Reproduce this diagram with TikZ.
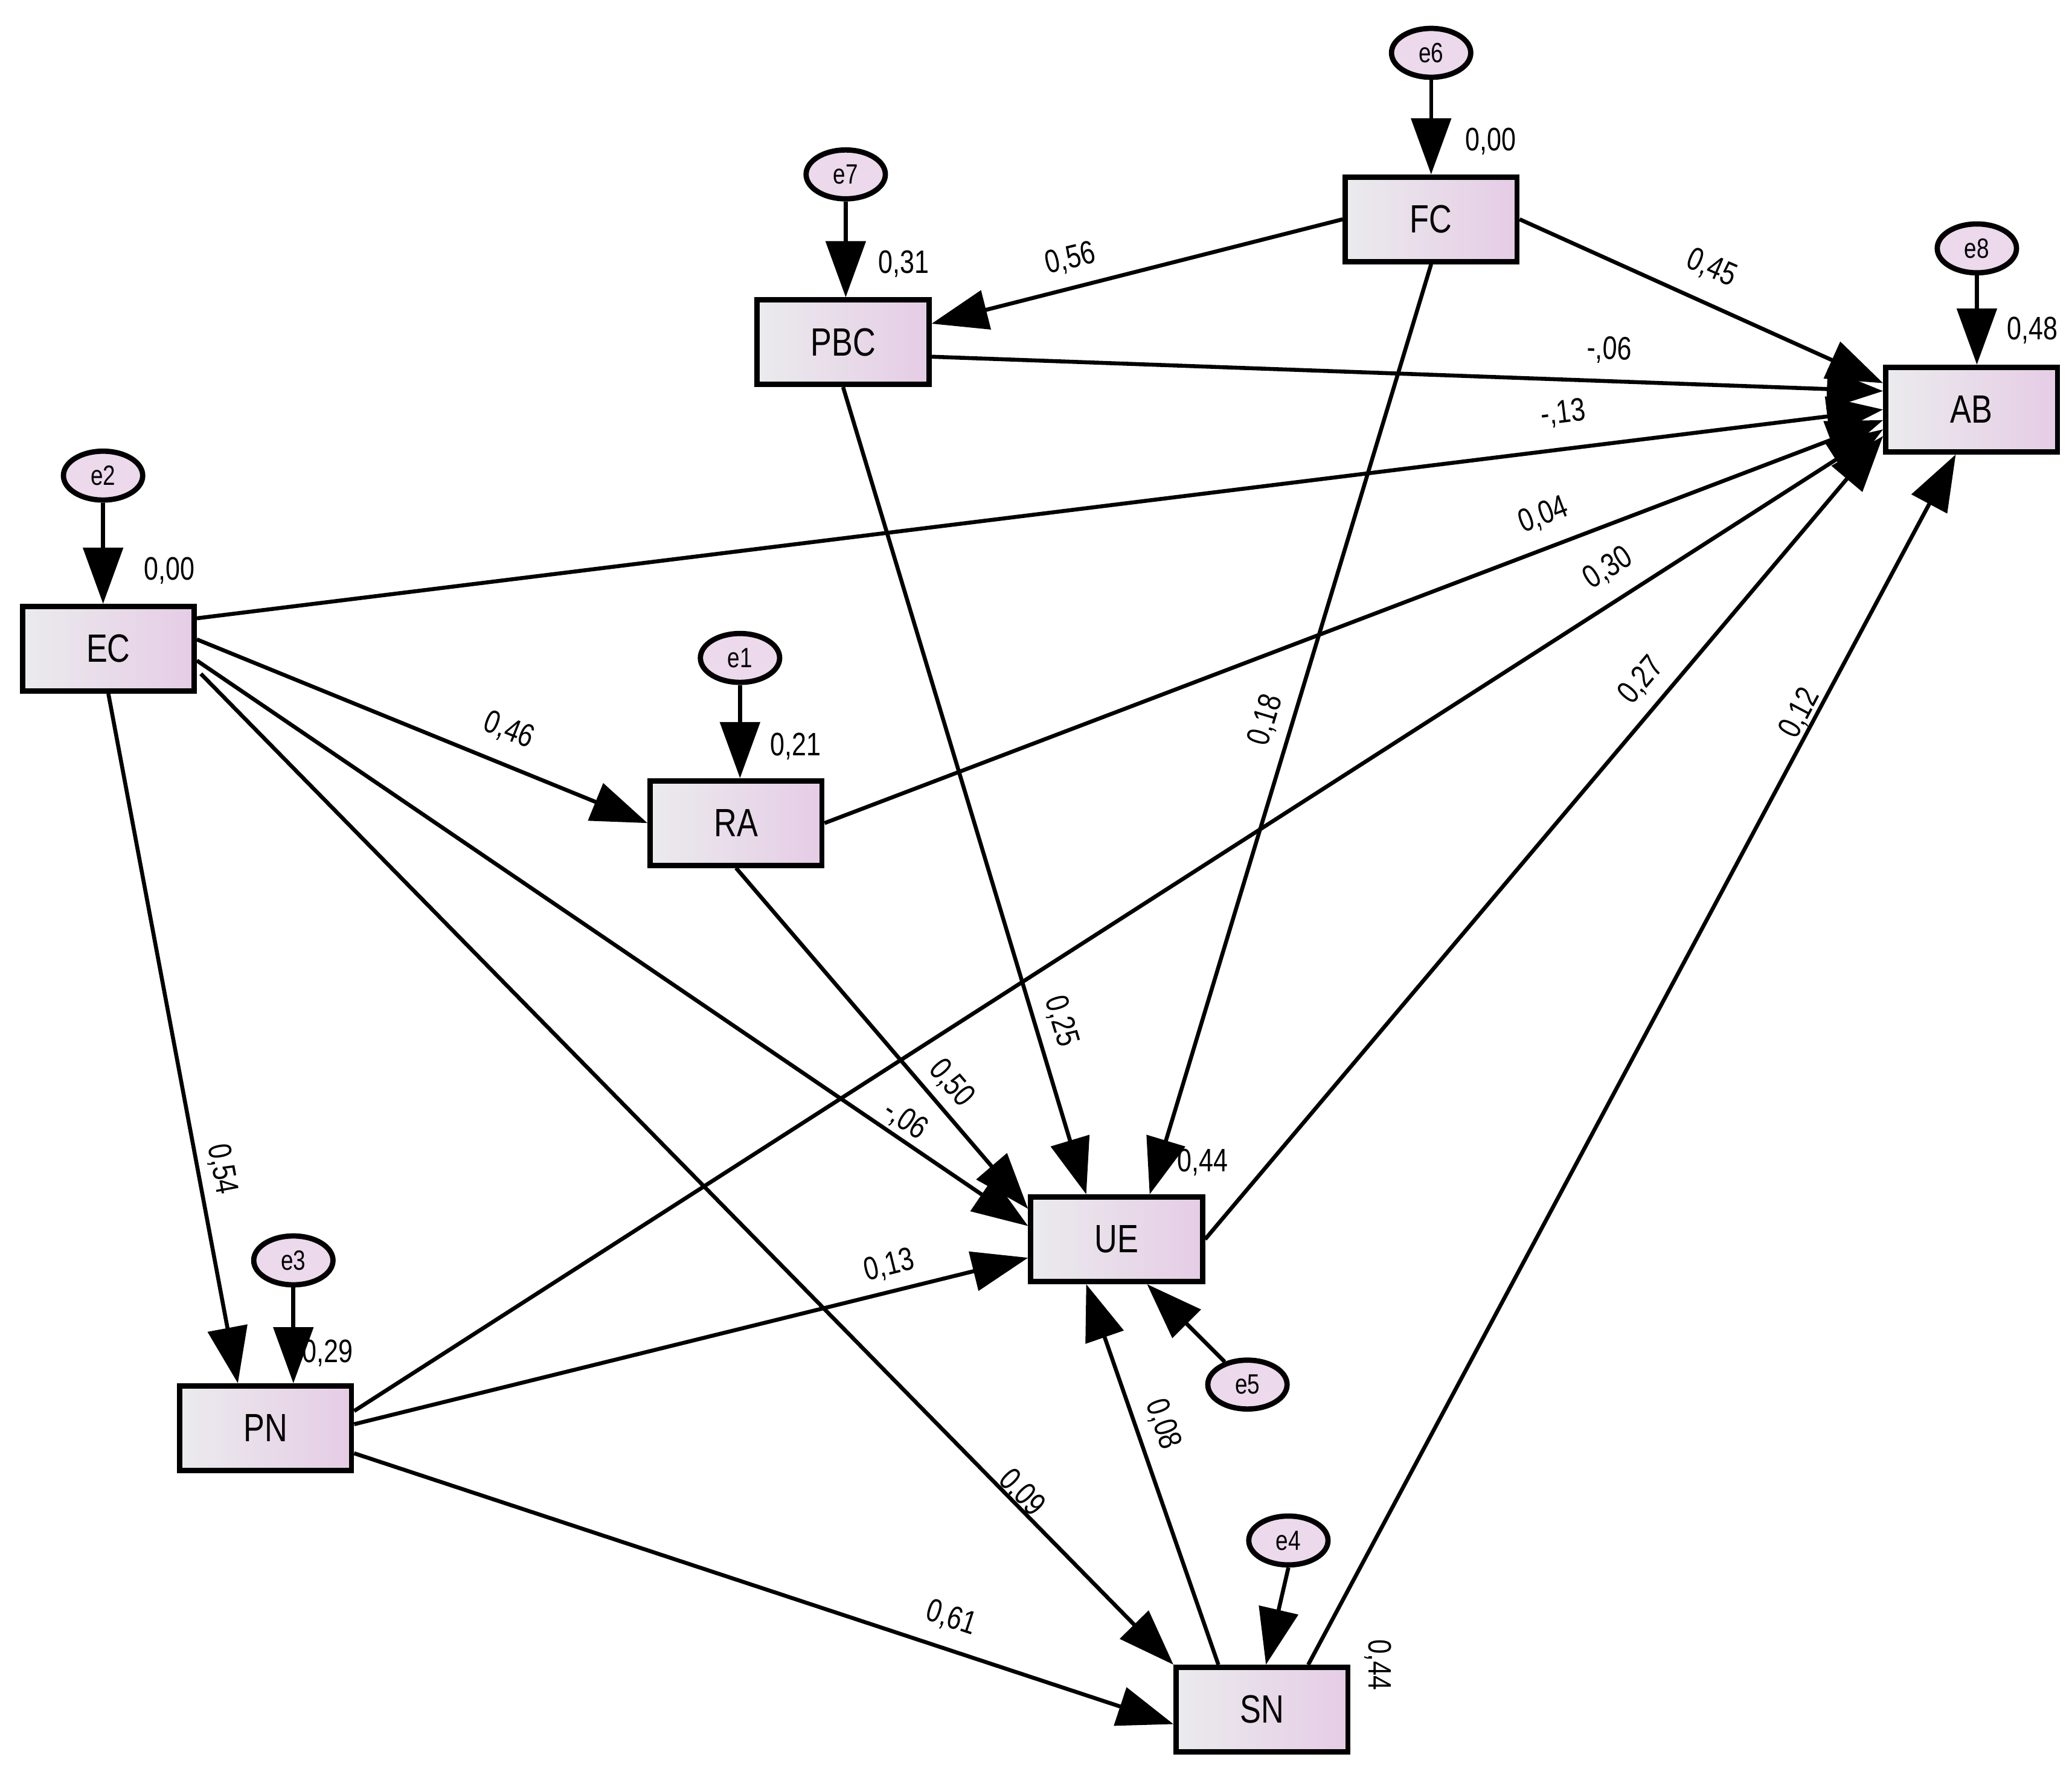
\documentclass[tikz,border=0pt]{standalone}
\usepackage{fontspec}
\setmainfont{Liberation Sans}[FakeStretch=0.8]
\usetikzlibrary{arrows.meta,calc,shapes.geometric}
\begin{document}
\begin{tikzpicture}[x=0.02cm,y=-0.02cm,
 box/.style={draw,line width=0.08cm,minimum width=2.6cm,minimum height=1.28cm,inner sep=0,left color=blue!6!gray!15,right color=violet!20,font=\fontsize{17}{17}\selectfont},
 err/.style={draw,ellipse,line width=0.08cm,minimum width=1.2cm,minimum height=0.74cm,inner sep=0,fill=violet!15,font=\fontsize{12}{12}\selectfont},
 arr/.style={line width=0.06cm,-{Triangle[length=0.85cm,width=0.6cm]}},
 lab/.style={font=\fontsize{14}{14}\selectfont,inner sep=1pt}]
\useasboundingbox (0,0) rectangle (1568,1354);
\node[box] (FC) at (1083,166) {FC};
\node[box] (PBC) at (638,259) {PBC};
\node[box] (AB) at (1492,310) {AB};
\node[box] (EC) at (82,491) {EC};
\node[box] (RA) at (557,623) {RA};
\node[box] (UE) at (845,938) {UE};
\node[box] (PN) at (201,1081) {PN};
\node[box] (SN) at (955,1294) {SN};
\node[err] (e6) at (1083,40) {e6};
\node[err] (e7) at (640,132) {e7};
\node[err] (e8) at (1496,188) {e8};
\node[err] (e2) at (78,360) {e2};
\node[err] (e1) at (560,498) {e1};
\node[err] (e3) at (222,954) {e3};
\node[err] (e5) at (944,1048) {e5};
\node[err] (e4) at (975,1166) {e4};
% error arrows
\draw[arr] (e6.south) -- (FC.north);
\draw[arr] (e7.south) -- ($(PBC.north)+(2,0)$);
\draw[arr] (e8.south) -- ($(AB.north)+(4,0)$);
\draw[arr] (e2.south) -- ($(EC.north)+(-4,0)$);
\draw[arr] (e1.south) -- ($(RA.north)+(3,0)$);
\draw[arr] (e3.south) -- ($(PN.north)+(21,0)$);
\draw[arr] (e4.south) -- ($(SN.north)+(3,0)$);
\draw[arr] (e5) -- ($(UE.south)+(23,0)$);
% structural arrows
\draw[arr] (FC.west) -- ($(PBC.east)+(0,-14)$);
\draw[arr] (FC.east) -- ($(AB.west)+(0,-20)$);
\draw[arr] ($(PBC.east)+(0,11)$) -- ($(AB.west)+(0,-14)$);
\draw[arr] ($(EC.east)+(0,-23)$) -- (AB.west);
\draw[arr] (RA.east) -- ($(AB.west)+(0,8)$);
\draw[arr] ($(PN.east)+(0,-13)$) -- ($(AB.west)+(0,15)$);
\draw[arr] (UE.east) -- ($(AB.west)+(0,20)$);
\draw[arr] ($(SN.north)+(35,0)$) -- ($(AB.south)+(-12,0)$);
\draw[arr] (FC.south) -- ($(UE.north)+(25,0)$);
\draw[arr] (PBC.south) -- ($(UE.north)+(-23,0)$);
\draw[arr] ($(EC.east)+(0,-7)$) -- (RA.west);
\draw[arr] ($(EC.east)+(0,9)$) -- ($(UE.west)+(0,-10)$);
\draw[arr] (RA.south) -- ($(UE.west)+(0,-23)$);
\draw[arr] (EC.south) -- ($(PN.north)+(-21,0)$);
\draw[arr] ($(EC.east)+(3,19)$) -- (SN.north west);
\draw[arr] ($(PN.east)+(0,-3)$) -- ($(UE.west)+(0,14)$);
\draw[arr] ($(PN.east)+(0,19)$) -- ($(SN.west)+(0,11)$);
\draw[arr] ($(SN.north)+(-33,0)$) -- ($(UE.south)+(-23,0)$);
% path labels
\node[lab,rotate=13.7] (l1) at (810,196) {0,56};
\node[lab,rotate=-23.5] (l2) at (1295,203) {0,45};
\node[lab,rotate=-2] (l3) at (1218,265) {-,06};
\node[lab,rotate=7] (l4) at (1183,313) {-,13};
\node[lab,rotate=20.7] (l5) at (1168,390) {0,04};
\node[lab,rotate=32.6] (l6) at (1217,430) {0,30};
\node[lab,rotate=49.7] (l7) at (1242,515) {0,27};
\node[lab,rotate=62] (l8) at (1362,540) {0,12};
\node[lab,rotate=73.3] (l9) at (958,545) {0,18};
\node[lab,rotate=-73.3] (l10) at (803,773) {0,25};
\node[lab,rotate=-21.8] (l11) at (385,553) {0,46};
\node[lab,rotate=-34] (l12) at (685,848) {-,06};
\node[lab,rotate=-49.4] (l13) at (720,820) {0,50};
\node[lab,rotate=-79.5] (l14) at (168,885) {0,54};
\node[lab,rotate=-46] (l15) at (773,1130) {0,09};
\node[lab,rotate=13.8] (l16) at (673,958) {0,13};
\node[lab,rotate=-18.2] (l17) at (720,1225) {0,61};
\node[lab,rotate=-71] (l18) at (880,1078) {0,08};
% squared multiple correlations
\node[lab] (r1) at (1128,107) {0,00};
\node[lab] (r2) at (684,200) {0,31};
\node[lab] (r3) at (1538,250) {0,48};
\node[lab] (r4) at (128,432) {0,00};
\node[lab] (r5) at (602,565) {0,21};
\node[lab] (r6) at (910,880) {0,44};
\node[lab] (r7) at (248,1024) {0,29};
\node[lab,rotate=-90] (r8) at (1043,1260) {0,44};
\end{tikzpicture}
\end{document}
